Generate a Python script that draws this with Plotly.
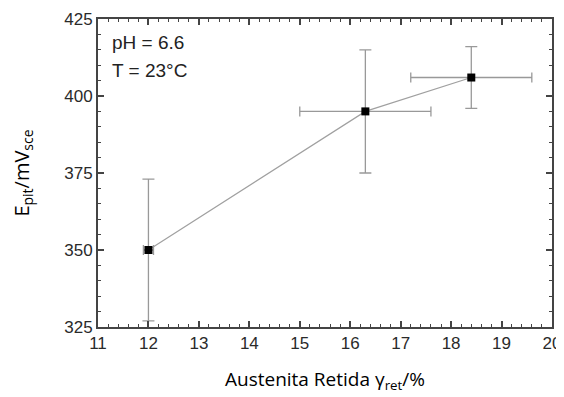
import plotly.graph_objects as go

austenita = [12.0, 16.3, 18.4]
austenita_err = [0.1, 1.3, 1.2]
epit = [350, 395, 406]
epit_err_plus = [23, 20, 10]
epit_err_minus = [23, 20, 10]

x_ticks = list(range(11, 21))
y_ticks = [325, 350, 375, 400, 425]

fig = go.Figure()
fig.add_trace(go.Scatter(
    x=austenita, y=epit, mode="lines",
    line=dict(color="#a0a0a0", width=1.2), showlegend=False, hoverinfo="skip"))
fig.add_trace(go.Scatter(
    x=austenita, y=epit, mode="markers",
    marker=dict(symbol="square", size=8, color="black"),
    error_y=dict(type="data", array=epit_err_plus, arrayminus=epit_err_minus,
                 color="#999999", thickness=1.3, width=6),
    error_x=dict(type="data", array=austenita_err, color="#999999",
                 thickness=1.3, width=5),
    showlegend=False))

tickfont = dict(family="Liberation Sans, Arial", size=17, color="#2a2a2a")
axis_common = dict(showline=True, linecolor="#444444", linewidth=2, mirror="ticks",
                   ticks="inside", ticklen=6, tickwidth=1.5, tickcolor="#444444",
                   showgrid=False, zeroline=False, tickfont=tickfont, automargin=False)

fig.update_layout(
    width=556, height=389,
    margin=dict(l=90, r=12, t=11, b=70),
    plot_bgcolor="white", paper_bgcolor="white",
    xaxis=dict(range=[11, 20], tickvals=x_ticks, **axis_common,
               minor=dict(dtick=0.2, ticks="inside", ticklen=3, tickcolor="#444444", tickwidth=1.2),
               title=dict(text="Austenita Retida γ<sub>ret</sub>/%",
                          font=dict(family="Open Sans", size=19, color="black"), standoff=20)),
    yaxis=dict(range=[325, 425], tickvals=y_ticks, **axis_common,
               minor=dict(dtick=5, ticks="inside", ticklen=3, tickcolor="#444444", tickwidth=1.2),
               title=dict(text="E<sub>pit</sub>/mV<sub>sce</sub>",
                          font=dict(family="Open Sans", size=20, color="black"), standoff=32)),
    annotations=[
        dict(text="pH = 6.6", xref="paper", yref="paper", x=0.026, y=0.925,
             xanchor="left", yanchor="middle", showarrow=False,
             font=dict(family="Liberation Sans, Arial", size=19, color="#222222")),
        dict(text="T = 23°C", xref="paper", yref="paper", x=0.026, y=0.834,
             xanchor="left", yanchor="middle", showarrow=False,
             font=dict(family="Liberation Sans, Arial", size=19, color="#222222")),
    ],
)

fig.write_html("out.html")
